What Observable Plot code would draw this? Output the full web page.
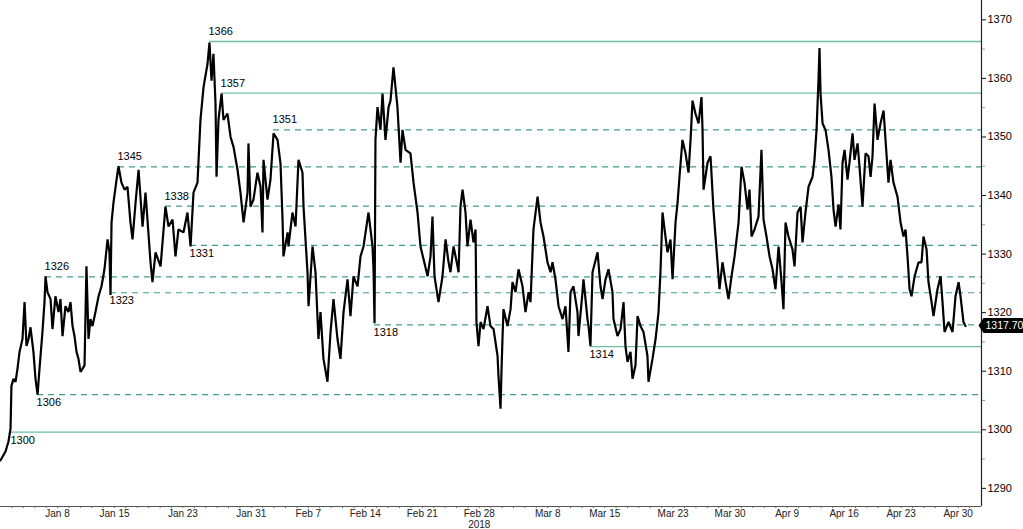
<!DOCTYPE html>
<html><head><meta charset="utf-8">
<script src="https://cdn.jsdelivr.net/npm/d3@7"></script>
<script src="https://cdn.jsdelivr.net/npm/@observablehq/plot@0.6"></script>
<style>
html,body{margin:0;padding:0;background:#fff;}
#chart svg{display:block;}
</style></head><body><div id="chart"></div>
<script>
// x positions are trading-day indices (weekdays since Jan 1, 2018)
const tickDays = [5,10,16,22,27,32,37,42,48,53,59,64,69,74,79,84];
const tickLabels = ["Jan 8","Jan 15","Jan 23","Jan 31","Feb 7","Feb 14","Feb 21","Feb 28","Mar 8","Mar 15","Mar 23","Mar 30","Apr 9","Apr 16","Apr 23","Apr 30"];
const yearLabel = "2018";
const yearLabelDay = 42;
const priceTicks = [1290,1300,1310,1320,1330,1340,1350,1360,1370];
const minorPriceTicks = [1295,1305,1315,1325,1335,1345,1355,1365];

const levelValues = [1366.3,1357.5,1351.2,1344.9,1338.2,1331.5,1326.1,1323.4,1317.9,1314.2,1306.0,1299.6];
const levelLabels = ["1366","1357","1351","1345","1338","1331","1326","1323","1318","1314","1306","1300"];
const levelStart  = [18.33,19.39,23.95,10.35,14.47,16.67,3.95,9.65,32.81,51.75,3.25,0.96];
const levelKind   = ["solid","solid","dashed","dashed","dashed","dashed","dashed","dashed","dashed","solid","dashed","solid"];
const levelSide   = ["above","above","above","above","above","below","above","below","below","below","below","below"];

const lastPrice = 1317.70;
const lastPriceLabel = "1317.70";

// [trading day, price]
const goldSpot = [
[0,1294.8],[0.44,1296.3],[0.70,1298.0],[0.88,1300.2],[0.96,1307.5],[1.14,1308.7],[1.32,1308.2],[1.49,1310.4],[1.67,1313.3],[1.93,1315.5],
[2.11,1321.8],[2.28,1314.3],[2.46,1315.5],[2.63,1317.5],[2.89,1313.3],[3.07,1308.7],[3.25,1306.0],[3.42,1310.4],[3.68,1316.7],[3.86,1321.8],
[3.95,1326.2],[4.12,1323.5],[4.39,1322.3],[4.56,1317.2],[4.82,1322.8],[5.09,1320.1],[5.26,1322.3],[5.44,1316.0],[5.70,1321.1],[5.96,1320.1],
[6.14,1321.8],[6.32,1317.7],[6.49,1316.0],[6.67,1313.3],[6.84,1312.1],[7.02,1309.9],[7.19,1310.4],[7.37,1311.0],[7.54,1327.9],[7.72,1315.5],
[7.89,1318.9],[8.07,1317.7],[8.33,1320.1],[8.60,1322.8],[8.86,1324.5],[9.12,1327.4],[9.39,1332.5],[9.56,1330.3],[9.65,1323.0],[9.74,1335.4],
[9.91,1338.8],[10.18,1342.7],[10.35,1345.0],[10.61,1342.2],[10.88,1341.0],[11.14,1341.5],[11.40,1335.4],[11.58,1332.5],[11.84,1338.6],[12.11,1344.4],
[12.46,1334.7],[12.72,1340.5],[12.89,1335.9],[13.16,1328.6],[13.33,1325.2],[13.60,1330.3],[14.04,1327.9],[14.47,1338.1],[14.74,1334.7],[15.09,1335.9],
[15.35,1329.6],[15.61,1334.2],[16.05,1333.7],[16.40,1337.1],[16.67,1331.3],[16.93,1340.5],[17.28,1342.2],[17.54,1352.9],[17.81,1358.5],[18.16,1362.5],
[18.33,1366.1],[18.51,1359.6],[18.68,1364.2],[18.86,1355.7],[18.95,1343.2],[19.12,1352.9],[19.39,1357.4],[19.56,1352.9],[19.91,1354.0],[20.18,1350.0],
[20.44,1348.3],[20.79,1344.4],[21.05,1340.5],[21.32,1335.4],[21.67,1340.5],[21.75,1348.9],[21.93,1338.1],[22.19,1339.3],[22.54,1343.9],[22.81,1341.5],
[22.98,1333.7],[23.07,1346.1],[23.42,1339.3],[23.68,1342.7],[23.95,1350.6],[24.30,1349.5],[24.56,1345.5],[24.74,1335.9],[24.82,1329.6],[25.18,1333.7],
[25.26,1331.3],[25.61,1337.1],[25.88,1334.7],[26.14,1346.1],[26.49,1343.9],[26.58,1338.1],[26.93,1326.9],[27.02,1321.1],[27.37,1331.3],[27.63,1326.9],
[27.89,1315.5],[28.07,1320.1],[28.33,1312.1],[28.68,1308.2],[28.95,1316.7],[29.21,1322.3],[29.56,1315.5],[29.82,1312.1],[30.09,1320.1],[30.44,1325.7],
[30.70,1319.4],[30.96,1326.2],[31.32,1324.5],[31.58,1329.6],[31.84,1331.3],[32.28,1337.1],[32.63,1331.3],[32.72,1327.4],[32.81,1318.2],[32.89,1349.5],
[33.07,1355.1],[33.33,1351.2],[33.51,1357.4],[33.77,1349.5],[34.04,1355.1],[34.21,1356.2],[34.47,1361.9],[34.82,1355.1],[35.09,1345.6],[35.26,1351.2],
[35.53,1347.8],[35.96,1347.2],[36.23,1342.2],[36.58,1337.1],[36.84,1331.3],[37.11,1329.1],[37.46,1326.2],[37.72,1329.6],[37.89,1336.4],[38.07,1326.2],
[38.42,1321.8],[38.77,1326.2],[39.04,1332.5],[39.30,1328.6],[39.47,1326.9],[39.74,1331.3],[40.09,1327.9],[40.18,1326.9],[40.35,1338.1],[40.53,1341.0],
[40.79,1337.1],[40.96,1331.3],[41.23,1335.9],[41.49,1332.0],[41.67,1334.2],[41.75,1318.4],[41.93,1314.3],[42.11,1318.4],[42.37,1317.2],[42.72,1321.1],
[42.98,1317.7],[43.25,1317.2],[43.60,1312.6],[43.68,1309.2],[43.86,1303.6],[43.95,1310.4],[44.04,1316.0],[44.12,1320.6],[44.47,1317.7],[44.74,1320.6],
[44.91,1325.2],[45.18,1323.5],[45.44,1327.4],[45.79,1324.5],[46.05,1320.1],[46.32,1323.5],[46.49,1321.8],[46.75,1334.2],[47.11,1339.8],[47.37,1335.4],
[47.63,1333.0],[47.98,1328.6],[48.25,1326.9],[48.42,1328.6],[48.68,1325.7],[48.95,1321.1],[49.30,1318.9],[49.56,1321.1],[49.82,1313.3],[50.00,1323.5],
[50.26,1324.5],[50.61,1320.1],[50.70,1316.0],[51.05,1323.5],[51.14,1325.7],[51.49,1318.9],[51.58,1317.7],[51.75,1314.3],[51.93,1326.9],[52.37,1330.3],
[52.63,1324.5],[52.81,1322.3],[53.07,1325.7],[53.33,1327.4],[53.68,1323.5],[53.77,1318.9],[54.12,1316.0],[54.39,1317.2],[54.65,1321.8],[54.82,1314.3],
[55.00,1311.6],[55.26,1313.3],[55.44,1308.7],[55.70,1311.0],[55.88,1319.4],[56.14,1317.7],[56.40,1316.7],[56.75,1312.6],[56.84,1308.2],[57.19,1312.1],
[57.46,1315.5],[57.72,1320.1],[57.89,1326.9],[58.07,1337.1],[58.25,1334.2],[58.51,1330.3],[58.77,1332.5],[58.95,1325.7],[59.21,1335.4],[59.39,1338.8],
[59.56,1343.2],[59.82,1349.5],[60.09,1347.2],[60.35,1343.9],[60.53,1349.5],[60.70,1356.2],[60.96,1354.0],[61.23,1352.3],[61.49,1356.8],[61.58,1351.2],
[61.67,1341.0],[62.02,1345.6],[62.28,1346.7],[62.54,1337.6],[62.89,1328.6],[63.07,1324.0],[63.33,1328.6],[63.60,1325.2],[63.86,1322.3],[64.12,1326.2],
[64.39,1329.6],[64.74,1335.4],[65.00,1344.9],[65.26,1342.2],[65.53,1337.6],[65.70,1341.0],[65.88,1333.0],[66.14,1334.2],[66.49,1336.4],[66.75,1347.8],
[66.93,1335.9],[67.19,1333.0],[67.46,1329.6],[67.72,1327.4],[67.98,1324.0],[68.25,1331.3],[68.51,1325.2],[68.68,1320.6],[68.86,1335.4],[69.12,1333.0],
[69.47,1330.8],[69.65,1327.9],[69.91,1337.1],[70.18,1338.1],[70.35,1332.0],[70.61,1337.1],[70.88,1341.5],[71.23,1343.2],[71.40,1346.1],[71.58,1351.2],
[71.75,1359.6],[71.84,1365.2],[71.93,1357.4],[72.11,1352.3],[72.37,1351.2],[72.63,1347.8],[72.89,1343.2],[73.07,1337.6],[73.25,1334.7],[73.51,1338.5],
[73.68,1334.2],[73.86,1345.6],[74.04,1347.8],[74.30,1342.7],[74.47,1345.6],[74.74,1350.6],[74.91,1346.1],[75.18,1348.9],[75.35,1344.9],[75.61,1338.1],
[75.88,1347.2],[76.14,1346.7],[76.32,1343.2],[76.49,1346.7],[76.67,1355.7],[76.93,1349.5],[77.19,1352.3],[77.46,1354.5],[77.63,1349.5],[77.89,1342.2],
[78.07,1346.1],[78.33,1342.2],[78.68,1339.8],[78.95,1335.4],[79.21,1333.0],[79.39,1334.2],[79.56,1329.6],[79.74,1324.0],[79.91,1322.8],[80.18,1326.2],
[80.53,1328.6],[80.79,1328.6],[80.96,1333.0],[81.23,1330.8],[81.40,1325.2],[81.67,1321.8],[81.84,1319.4],[82.19,1324.0],[82.46,1326.2],[82.63,1321.8],
[82.81,1316.7],[83.16,1318.4],[83.51,1316.7],[83.77,1322.8],[84.04,1325.2],[84.21,1322.8],[84.47,1318.4],[84.65,1317.7]
];

const xMax = 86.05;
const yDomain = [1286.9, 1373.3];

const levels = levelValues.map((v, i) => ({value: v, label: levelLabels[i], start: levelStart[i], kind: levelKind[i], side: levelSide[i]}));
const series = goldSpot.map(([t, p]) => ({t, p}));
const dayTicks = d3.range(1, 86);

const font = '"Liberation Sans","DejaVu Sans",sans-serif';

const chart = Plot.plot({
  width: 1023, height: 529,
  marginLeft: 0, marginRight: 42, marginTop: 0, marginBottom: 23,
  style: {fontFamily: font, fontSize: "11px", color: "#111", background: "#fff", overflow: "visible"},
  x: {domain: [0, xMax], axis: null},
  y: {domain: yDomain, axis: null},
  marks: [
    Plot.ruleY(levels.filter(d => d.kind === "solid"), {y: "value", x1: "start", x2: xMax, stroke: "#6fc0aa", strokeWidth: 1.3}),
    Plot.ruleY(levels.filter(d => d.kind === "dashed"), {y: "value", x1: "start", x2: xMax, stroke: "#3f9e8a", strokeWidth: 1.2, strokeDasharray: "6,5"}),
    Plot.line(series, {x: "t", y: "p", stroke: "#000", strokeWidth: 2.2, strokeLinejoin: "miter"}),
    Plot.text(levels.filter(d => d.side === "above"), {x: "start", y: "value", text: "label", textAnchor: "start", dx: -1, dy: -10, fill: "#000"}),
    Plot.text(levels.filter(d => d.side === "below"), {x: "start", y: "value", text: "label", textAnchor: "start", dx: -1, dy: 8, fill: "#000"}),
    Plot.ruleX([xMax], {stroke: "#222", strokeWidth: 1.2}),
    Plot.ruleY([yDomain[0]], {stroke: "#555"}),
    Plot.axisY({anchor: "right", ticks: minorPriceTicks, tickSize: 3, stroke: "#999", tickFormat: () => ""}),
    Plot.axisY({anchor: "right", ticks: priceTicks, tickSize: 4, tickPadding: 2, tickFormat: d => String(d), fill: "#000"}),
    Plot.axisX({anchor: "bottom", ticks: dayTicks, tickSize: 2, stroke: "#666", tickFormat: () => ""}),
    Plot.axisX({anchor: "bottom", ticks: tickDays, tickSize: 0, tickPadding: 3, fontSize: 10, tickFormat: d => tickLabels[tickDays.indexOf(d)], fill: "#222"}),
    Plot.text([yearLabelDay], {x: d => d, y: yDomain[0], dy: 18, fontSize: 10, text: () => yearLabel, fill: "#222"}),
    Plot.text([lastPrice], {x: xMax, y: d => d, text: () => lastPriceLabel, dx: 4, fontSize: 10.5, textAnchor: "start", fill: "#fff"})
  ]
});
document.getElementById("chart").append(chart);

const tag = Array.from(chart.querySelectorAll("text")).find(t => t.textContent === lastPriceLabel);
if (tag) {
  const b = tag.getBBox();
  const x0 = b.x - 2, x1 = b.x + b.width + 2, y0 = b.y - 1.5, y1 = b.y + b.height + 1.5, ym = (y0 + y1) / 2;
  const p = document.createElementNS("http://www.w3.org/2000/svg", "path");
  p.setAttribute("d", `M${x0 - 5},${ym}L${x0},${y0}H${x1 - 2}Q${x1},${y0} ${x1},${y0 + 2}V${y1 - 2}Q${x1},${y1} ${x1 - 2},${y1}H${x0}Z`);
  p.setAttribute("fill", "#000");
  const tr = tag.getAttribute("transform");
  if (tr) p.setAttribute("transform", tr);
  tag.parentNode.insertBefore(p, tag);
}
</script>
</body></html>
